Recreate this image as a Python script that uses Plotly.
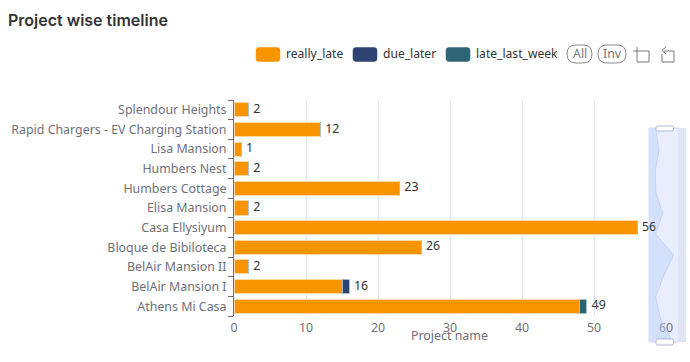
import plotly.graph_objects as go

W, H = 690, 362
categories = ["Athens Mi Casa", "BelAir Mansion I", "BelAir Mansion II", "Bloque de Bibiloteca",
              "Casa Ellysiyum", "Elisa Mansion", "Humbers Cottage", "Humbers Nest",
              "Lisa Mansion", "Rapid Chargers - EV Charging Station", "Splendour Heights"]
really_late = [48, 15, 2, 26, 56, 2, 23, 2, 1, 12, 2]
due_later = [0, 1, 0, 0, 0, 0, 0, 0, 0, 0, 0]
late_last_week = [1, 0, 0, 0, 0, 0, 0, 0, 0, 0, 0]
totals = [49, 16, 2, 26, 56, 2, 23, 2, 1, 12, 2]
x_ticks = [0, 10, 20, 30, 40, 50, 60]
legend_names = ["really_late", "due_later", "late_last_week"]
colors = ["#f79400", "#2e4372", "#2d6475"]
FONT = "Noto Sans"
GRAY = "#6e7079"
FS = 12.4

def px(v):
    return v / W
def py(v):
    return 1 - v / H

def rrect(x0, y0, x1, y1, r):
    """Rounded rectangle as an SVG path in paper coordinates (inputs in pixels)."""
    X = lambda v: f"{px(v):.5f}"
    Y = lambda v: f"{py(v):.5f}"
    return (f"M{X(x0+r)},{Y(y0)} L{X(x1-r)},{Y(y0)} Q{X(x1)},{Y(y0)} {X(x1)},{Y(y0+r)} "
            f"L{X(x1)},{Y(y1-r)} Q{X(x1)},{Y(y1)} {X(x1-r)},{Y(y1)} "
            f"L{X(x0+r)},{Y(y1)} Q{X(x0)},{Y(y1)} {X(x0)},{Y(y1-r)} "
            f"L{X(x0)},{Y(y0+r)} Q{X(x0)},{Y(y0)} {X(x0+r)},{Y(y0)} Z")

def polyline(pts):
    return "M" + " L".join(f"{px(a):.5f},{py(b):.5f}" for a, b in pts)

fig = go.Figure()
for name, vals, c, lc in zip(legend_names, [really_late, due_later, late_last_week], colors,
                             ["#fbd9a6", "#a9b2c6", "#a9c1c8"]):
    fig.add_trace(go.Bar(y=categories, x=vals, name=name, orientation="h",
                         marker=dict(color=c, line=dict(color=lc, width=1)), width=0.72,
                         showlegend=False))
fig.add_trace(go.Scatter(y=categories, x=totals, mode="markers+text", text=[str(t) for t in totals],
                         marker=dict(size=6, opacity=0),
                         textposition="middle right", textfont=dict(color="#333333", size=FS, family=FONT),
                         showlegend=False, hoverinfo="skip", cliponaxis=False))
# data zoom silhouette
fig.add_trace(go.Scatter(y=categories, x=totals, xaxis="x2", yaxis="y2", mode="lines",
                         line=dict(color="#c5d4f7", width=1), fill="tozerox",
                         fillcolor="rgba(190,210,250,0.5)", showlegend=False, hoverinfo="skip"))

def prect(x0, y0, x1, y1, fill, line=None, layer="below"):
    return dict(type="rect", xref="paper", yref="paper", x0=px(x0), x1=px(x1), y0=py(y1), y1=py(y0),
                fillcolor=fill, line=dict(color=line or fill, width=1 if line else 0), layer=layer)

shapes = [
    prect(649, 128, 679, 342, "#e8eefd", "#d2dbee"),
    prect(649, 128, 655, 342, "#d5e1fb"),
    prect(679, 128, 686, 342, "#dfe5f3"),
]
for y0, y1 in [(126, 131), (339, 345)]:
    shapes.append(dict(type="path", path=rrect(656, y0, 673.5, y1, 1.5), xref="paper", yref="paper",
                       fillcolor="#ffffff", line=dict(color="#acb8d1", width=1), layer="above"))
ann = []
# legend swatches and labels
for x0, x1, c, label, tx in [(256, 280, colors[0], legend_names[0], 284),
                             (353, 377, colors[1], legend_names[1], 381),
                             (446, 470, colors[2], legend_names[2], 474)]:
    shapes.append(dict(type="path", path=rrect(x0, 47.5, x1, 61.5, 3), xref="paper", yref="paper",
                       fillcolor=c, line=dict(color=c, width=0.5), layer="above"))
    ann.append(dict(text=label, xref="paper", yref="paper", x=px(tx), y=py(54), xanchor="left", yanchor="middle",
                    showarrow=False, font=dict(size=12.1, color="#333333", family=FONT)))
# All / Inv pill buttons
for x0, x1, label in [(567, 592, "All"), (598, 626, "Inv")]:
    shapes.append(dict(type="path", path=rrect(x0, 45, x1, 63, 9), xref="paper", yref="paper",
                       fillcolor="#ffffff", line=dict(color="#888888", width=1), layer="above"))
    ann.append(dict(text=label, xref="paper", yref="paper", x=px((x0 + x1) / 2), y=py(54), xanchor="center",
                    yanchor="middle", showarrow=False, font=dict(size=FS, color="#777777", family=FONT)))
# toolbox icons
for pts in [[(633, 51), (649, 51), (649, 62), (637, 62), (637, 47)],
            [(664, 51), (674, 51), (674, 62), (662, 62), (662, 54)],
            [(666, 47), (662, 50.5), (666, 54)]]:
    shapes.append(dict(type="path", path=polyline(pts), xref="paper", yref="paper",
                       line=dict(color="#777777", width=1), layer="above"))

ann.append(dict(text="Project wise timeline", xref="paper", yref="paper", x=px(5.5), y=py(20), xanchor="left",
                yanchor="middle", showarrow=False, font=dict(size=16, color="#333333", family="Inter", weight=600)))
ann.append(dict(text="Project name", xref="paper", yref="paper", x=px(449), y=py(335.5), xanchor="center",
                yanchor="middle", showarrow=False, font=dict(size=FS, color=GRAY, family=FONT)))

fig.update_layout(
    width=W, height=H, autosize=False, barmode="stack", bargap=0.28,
    margin=dict(l=0, r=0, t=0, b=0), paper_bgcolor="white", plot_bgcolor="rgba(0,0,0,0)",
    font=dict(family=FONT, size=FS, color=GRAY), showlegend=False,
    shapes=shapes, annotations=ann,
    xaxis=dict(domain=[px(234), px(666)], range=[0, 60], tickvals=x_ticks, showgrid=True, gridcolor="#e0e6f1",
               zeroline=False, showline=False, ticks="", tickfont=dict(size=FS, color=GRAY), anchor="y",
               automargin=False, ticklabelstandoff=3),
    yaxis=dict(domain=[py(316), py(100)], type="category", categoryorder="array", categoryarray=categories,
               showline=True, linecolor=GRAY, linewidth=1, ticks="outside", ticklen=5, tickcolor=GRAY,
               tickson="boundaries", showgrid=False, tickfont=dict(size=FS, color=GRAY), anchor="x",
               range=[-0.5, 10.5], automargin=False, ticklabelstandoff=4),
    xaxis2=dict(domain=[px(649), px(679)], range=[-18, 72], visible=False, anchor="y2", automargin=False),
    yaxis2=dict(domain=[py(339), py(129)], type="category", categoryorder="array", categoryarray=categories,
                range=[0, 10], visible=False, anchor="x2", automargin=False),
)
fig.write_html("out.html", post_script="document.body.style.margin='0';", config=dict(displayModeBar=False))
